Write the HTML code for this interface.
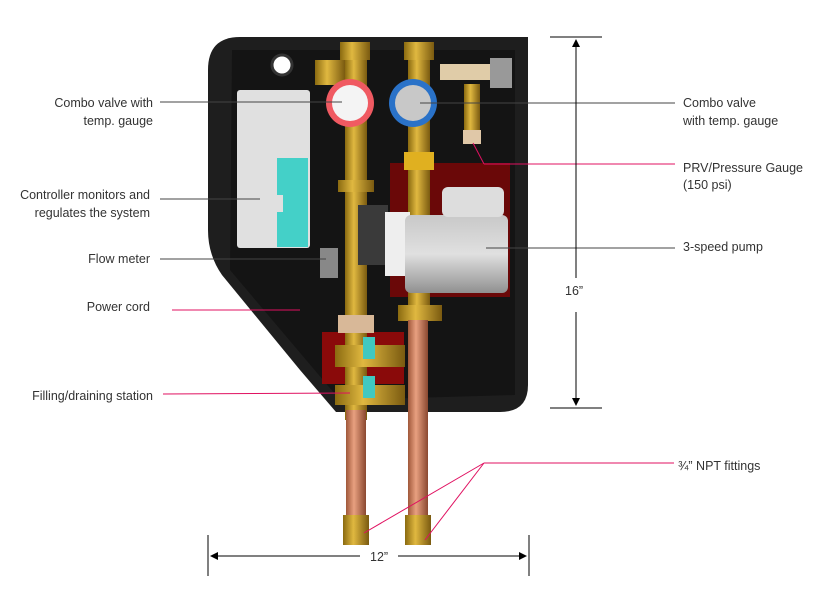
<!DOCTYPE html>
<html><head><meta charset="utf-8"><style>
html,body{margin:0;padding:0;background:#fff}
svg{display:block}
text{font-family:"Liberation Sans",sans-serif;font-size:12.5px;fill:#333}
</style></head><body>
<svg width="813" height="597" viewBox="0 0 813 597">
<defs>
<linearGradient id="brass" x1="0" x2="1"><stop offset="0" stop-color="#8a6a10"/><stop offset=".4" stop-color="#e0b840"/><stop offset="1" stop-color="#7a5a10"/></linearGradient>
<linearGradient id="cop" x1="0" x2="1"><stop offset="0" stop-color="#a0583a"/><stop offset=".4" stop-color="#e8a080"/><stop offset="1" stop-color="#8a4830"/></linearGradient>
<linearGradient id="grey" x1="0" x2="0" y1="0" y2="1"><stop offset="0" stop-color="#c8c8c8"/><stop offset=".5" stop-color="#e0e0e0"/><stop offset="1" stop-color="#909090"/></linearGradient>
<marker id="ah" markerWidth="8" markerHeight="8" refX="7" refY="4" orient="auto"><path d="M0,0 L8,4 L0,8z" fill="#000"/></marker>
</defs>
<!-- housing -->
<path d="M240,37 L528,37 L528,385 Q528,412 500,412 L336,412 L300,370 L222,275 Q208,255 208,230 L208,70 Q208,37 240,37z" fill="#1e1e1e"/>
<path d="M232,50 L515,50 L515,395 L340,400 L230,270 Z" fill="#141414"/>
<!-- dark red backgrounds -->
<rect x="390" y="163" width="120" height="134" fill="#6a0808"/>
<rect x="322" y="332" width="82" height="52" fill="#8a0a0a"/>
<!-- controller -->
<rect x="237" y="90" width="73" height="158" rx="3" fill="#e0e0e0"/>
<path d="M277,158 L308,158 L308,247 L277,247 L277,212 L283,212 L283,195 L277,195z" fill="#44d0c8"/>
<circle cx="282" cy="65" r="10" fill="#fff" stroke="#333" stroke-width="3"/>
<!-- flow meter -->
<rect x="320" y="248" width="18" height="30" fill="#888"/>
<!-- left brass pipe -->
<rect x="340" y="42" width="30" height="18" fill="url(#brass)"/>
<rect x="345" y="60" width="22" height="360" fill="url(#brass)"/>
<rect x="315" y="60" width="30" height="25" fill="url(#brass)"/>
<rect x="338" y="180" width="36" height="12" fill="url(#brass)"/>
<rect x="338" y="315" width="36" height="18" fill="#d8b898"/>
<rect x="335" y="345" width="70" height="22" fill="url(#brass)"/>
<rect x="335" y="385" width="70" height="20" fill="url(#brass)"/>
<rect x="363" y="337" width="12" height="22" fill="#40c8c0"/>
<rect x="363" y="376" width="12" height="22" fill="#40c8c0"/>
<!-- right brass pipe -->
<rect x="404" y="42" width="30" height="18" fill="url(#brass)"/>
<rect x="408" y="60" width="22" height="250" fill="url(#brass)"/>
<rect x="404" y="152" width="30" height="18" fill="#e0b020"/>
<rect x="398" y="305" width="44" height="16" fill="url(#brass)"/>
<rect x="440" y="64" width="50" height="16" fill="#e0cca8"/>
<rect x="490" y="58" width="22" height="30" fill="#999"/>
<rect x="464" y="84" width="16" height="50" fill="url(#brass)"/>
<rect x="463" y="130" width="18" height="14" fill="#e0c8a8"/>
<!-- gauges -->
<circle cx="350" cy="103" r="24" fill="#f05a62"/>
<circle cx="350" cy="103" r="18" fill="#f4f4f4"/>
<circle cx="413" cy="103" r="24" fill="#2a72c8"/>
<circle cx="413" cy="103" r="18" fill="#c8c8c8"/>
<!-- pump -->
<rect x="358" y="205" width="30" height="60" fill="#3a3a3a"/>
<rect x="385" y="212" width="25" height="64" fill="#eee"/>
<rect x="405" y="215" width="103" height="78" rx="6" fill="url(#grey)"/>
<rect x="442" y="187" width="62" height="30" rx="6" fill="#ddd"/>
<!-- copper pipes -->
<rect x="346" y="410" width="20" height="108" fill="url(#cop)"/>
<rect x="408" y="320" width="20" height="198" fill="url(#cop)"/>
<rect x="343" y="515" width="26" height="30" fill="url(#brass)"/>
<rect x="405" y="515" width="26" height="30" fill="url(#brass)"/>
<!-- leader lines -->
<g stroke-width="1">
<line x1="160" y1="102" x2="342" y2="102" stroke="#444"/>
<line x1="160" y1="199" x2="260" y2="199" stroke="#444"/>
<line x1="160" y1="259" x2="326" y2="259" stroke="#444"/>
<line x1="172" y1="310" x2="300" y2="310" stroke="#e01060"/>
<line x1="163" y1="394" x2="350" y2="393" stroke="#e01060"/>
<line x1="420" y1="103" x2="675" y2="103" stroke="#444"/>
<line x1="675" y1="164" x2="484" y2="164" stroke="#e01060"/>
<line x1="484" y1="164" x2="473" y2="143" stroke="#e01060"/>
<line x1="486" y1="248" x2="675" y2="248" stroke="#444"/>
<line x1="484" y1="463" x2="674" y2="463" stroke="#e01060"/>
<line x1="484" y1="463" x2="364" y2="533" stroke="#e01060"/>
<line x1="484" y1="463" x2="425" y2="540" stroke="#e01060"/>
</g>
<!-- dimensions -->
<g stroke="#000" stroke-width="1">
<line x1="550" y1="37" x2="602" y2="37"/>
<line x1="550" y1="408" x2="602" y2="408"/>
<line x1="576" y1="278" x2="576" y2="40" marker-end="url(#ah)"/>
<line x1="576" y1="312" x2="576" y2="405" marker-end="url(#ah)"/>
<line x1="208" y1="535" x2="208" y2="576"/>
<line x1="529" y1="535" x2="529" y2="576"/>
<line x1="360" y1="556" x2="211" y2="556" marker-end="url(#ah)"/>
<line x1="398" y1="556" x2="526" y2="556" marker-end="url(#ah)"/>
</g>
<text x="565" y="295">16”</text>
<text x="370" y="561">12”</text>
<!-- labels -->
<g text-anchor="end">
<text x="153" y="107">Combo valve with</text>
<text x="153" y="125">temp. gauge</text>
<text x="150" y="199">Controller monitors and</text>
<text x="150" y="217">regulates the system</text>
<text x="150" y="263">Flow meter</text>
<text x="150" y="311">Power cord</text>
<text x="153" y="400">Filling/draining station</text>
</g>
<text x="683" y="107">Combo valve</text>
<text x="683" y="125">with temp. gauge</text>
<text x="683" y="172">PRV/Pressure Gauge</text>
<text x="683" y="189">(150 psi)</text>
<text x="683" y="251">3-speed pump</text>
<text x="678" y="470">¾” NPT fittings</text>
</svg>
</body></html>
